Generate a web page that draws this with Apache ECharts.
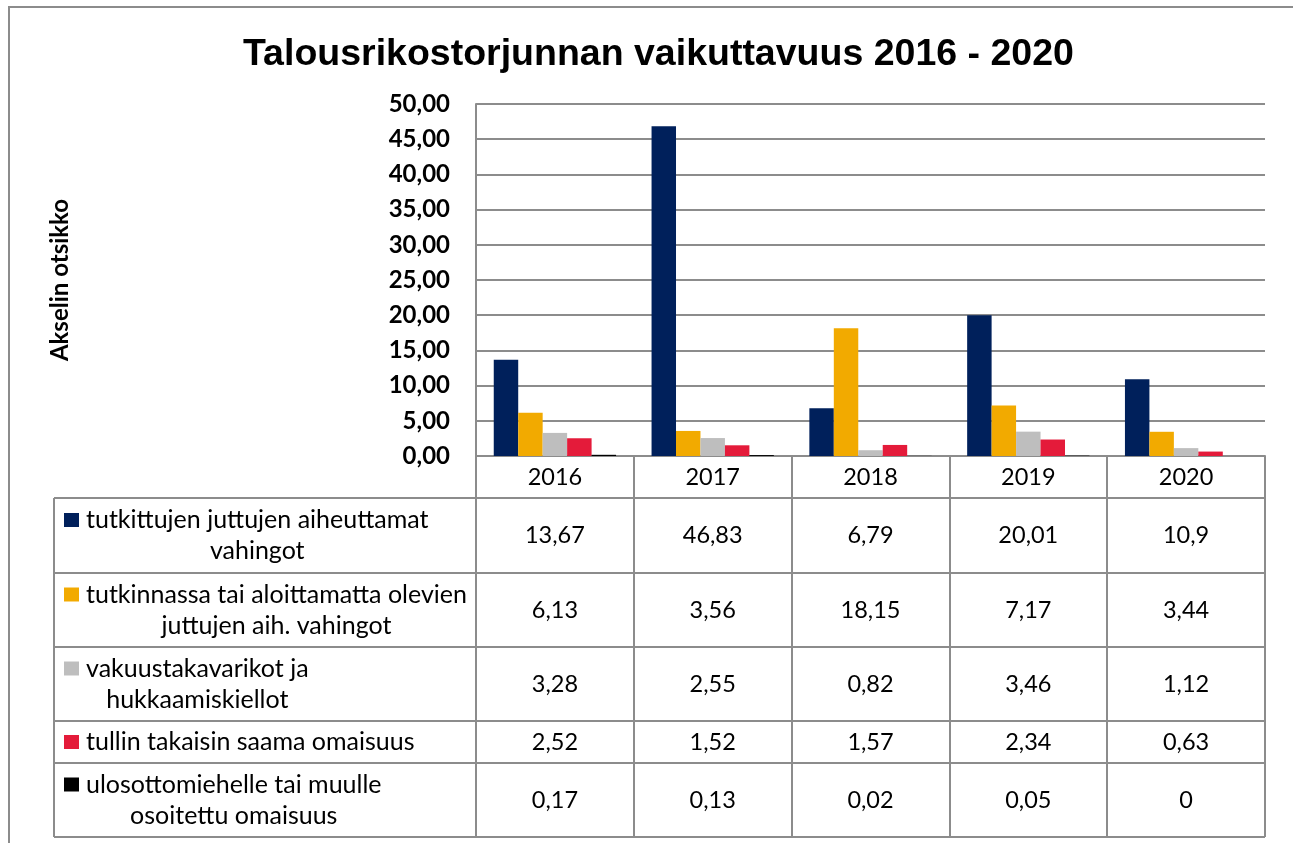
<!DOCTYPE html>
<html>
<head>
<meta charset="utf-8">
<script src="https://cdn.jsdelivr.net/npm/echarts@6/dist/echarts.min.js"></script>
<style>
  html, body { margin: 0; padding: 0; background: #fff; }
  #chart { width: 1293px; height: 843px; }
</style>
</head>
<body>
<div id="chart"></div>
<script>
// data
const years = ['2016', '2017', '2018', '2019', '2020']
const seriesNames = [
  'tutkittujen juttujen aiheuttamat vahingot',
  'tutkinnassa tai aloittamatta olevien juttujen aih. vahingot',
  'vakuustakavarikot ja hukkaamiskiellot',
  'tullin takaisin saama omaisuus',
  'ulosottomiehelle tai muulle osoitettu omaisuus'
]
// same names, wrapped the way the data table shows them
const legendLabels = [
  'tutkittujen juttujen aiheuttamat\nvahingot',
  'tutkinnassa tai aloittamatta olevien\njuttujen aih. vahingot',
  'vakuustakavarikot ja\nhukkaamiskiellot',
  'tullin takaisin saama omaisuus',
  'ulosottomiehelle tai muulle\nosoitettu omaisuus'
]
const damagesInvestigated = [13.67, 46.83, 6.79, 20.01, 10.9]
const damagesPending = [6.13, 3.56, 18.15, 7.17, 3.44]
const securitySeizures = [3.28, 2.55, 0.82, 3.46, 1.12]
const customsRecovered = [2.52, 1.52, 1.57, 2.34, 0.63]
const enforcementAssigned = [0.17, 0.13, 0.02, 0.05, 0]
const allValues = [damagesInvestigated, damagesPending, securitySeizures, customsRecovered, enforcementAssigned]
const colors = ['#00205b', '#f2aa00', '#bebebe', '#e41b3a', '#000000']

// layout
const gridLeft = 476
const gridRight = 1265
const gridTop = 104
const gridBottom = 456
const tableLeft = 54
const rowEdges = [498, 573, 647, 721, 763, 837]
const lineColor = '#8c8c8c'
const bodyFont = 'Lato'
const labelSize = 25
const numberSize = 23.5

const chart = echarts.init(document.getElementById('chart'))

const fmt = v => String(v).replace('.', ',')
const rowCenters = rowEdges.slice(0, -1).map((e, i) => (e + rowEdges[i + 1]) / 2)

// one hidden x axis per table row, its labels are the cell values
const valueAxes = allValues.map((vals, i) => ({
  type: 'category',
  data: vals.map(fmt),
  position: 'bottom',
  offset: rowCenters[i] - gridBottom,
  axisLine: { show: false },
  axisTick: { show: false },
  splitLine: { show: false },
  axisLabel: {
    margin: 0,
    verticalAlign: 'middle',
    color: '#000',
    fontFamily: bodyFont,
    fontSize: numberSize
  }
}))

const measure = document.createElement('canvas').getContext('2d')
measure.font = labelSize + 'px ' + bodyFont

const graphics = [
  {
    type: 'rect',
    shape: { x: 9, y: 7, width: 1400, height: 1000 },
    style: { fill: 'none', stroke: '#8c8c8c', lineWidth: 2 },
    silent: true
  },
  {
    type: 'line',
    shape: { x1: tableLeft, y1: rowEdges[0], x2: tableLeft, y2: rowEdges[rowEdges.length - 1] },
    style: { stroke: lineColor, lineWidth: 2 }
  }
]
rowEdges.forEach(y => {
  graphics.push({
    type: 'line',
    shape: { x1: tableLeft, y1: y, x2: gridRight, y2: y },
    style: { stroke: lineColor, lineWidth: 2 }
  })
})
legendLabels.forEach((label, i) => {
  const lines = label.split('\n')
  const w = Math.max(...lines.map(l => measure.measureText(l).width))
  const lh = 31
  const firstLine = rowCenters[i] - (lines.length - 1) * lh / 2
  graphics.push({
    type: 'rect',
    shape: { x: 64, y: firstLine - 7, width: 15, height: 14 },
    style: { fill: colors[i] }
  })
  graphics.push({
    type: 'text',
    x: 86 + w / 2,
    y: rowCenters[i],
    style: {
      text: label,
      align: 'center',
      verticalAlign: 'middle',
      lineHeight: lh,
      fontFamily: bodyFont,
      fontSize: labelSize,
      fill: '#000'
    }
  })
})

const option = {
  animation: false,
  backgroundColor: '#fff',
  title: {
    text: 'Talousrikostorjunnan vaikuttavuus 2016 - 2020',
    left: 238,
    top: 31,
    textStyle: {
      fontFamily: 'Liberation Sans',
      fontWeight: 'bold',
      fontSize: 37.5,
      color: '#000'
    }
  },
  grid: {
    left: gridLeft,
    top: gridTop,
    width: gridRight - gridLeft,
    height: gridBottom - gridTop
  },
  xAxis: [
    {
      type: 'category',
      data: years,
      axisLine: { show: true, lineStyle: { color: lineColor, width: 2 } },
      axisTick: { show: true, length: rowEdges[rowEdges.length - 1] - gridBottom, lineStyle: { color: lineColor, width: 2 } },
      axisLabel: {
        margin: 21,
        verticalAlign: 'middle',
        color: '#000',
        fontFamily: bodyFont,
        fontSize: numberSize
      }
    },
    ...valueAxes
  ],
  yAxis: {
    type: 'value',
    min: 0,
    max: 50,
    interval: 5,
    name: 'Akselin otsikko',
    nameLocation: 'middle',
    nameRotate: 90,
    nameGap: 404,
    nameTextStyle: {
      fontFamily: bodyFont,
      fontWeight: 'bold',
      fontSize: 24,
      color: '#000'
    },
    axisLine: { show: true, lineStyle: { color: lineColor, width: 2 } },
    axisTick: { show: false },
    splitLine: { lineStyle: { color: lineColor, width: 2 } },
    axisLabel: {
      margin: 26,
      color: '#000',
      fontFamily: bodyFont,
      fontWeight: 'bold',
      fontSize: 24,
      formatter: v => v.toFixed(2).replace('.', ',')
    }
  },
  series: allValues.map((vals, i) => ({
    name: seriesNames[i],
    type: 'bar',
    data: vals,
    barGap: 0,
    barCategoryGap: '22.5%',
    itemStyle: { color: colors[i] }
  })),
  graphic: graphics
}

chart.setOption(option)
</script>
</body>
</html>
